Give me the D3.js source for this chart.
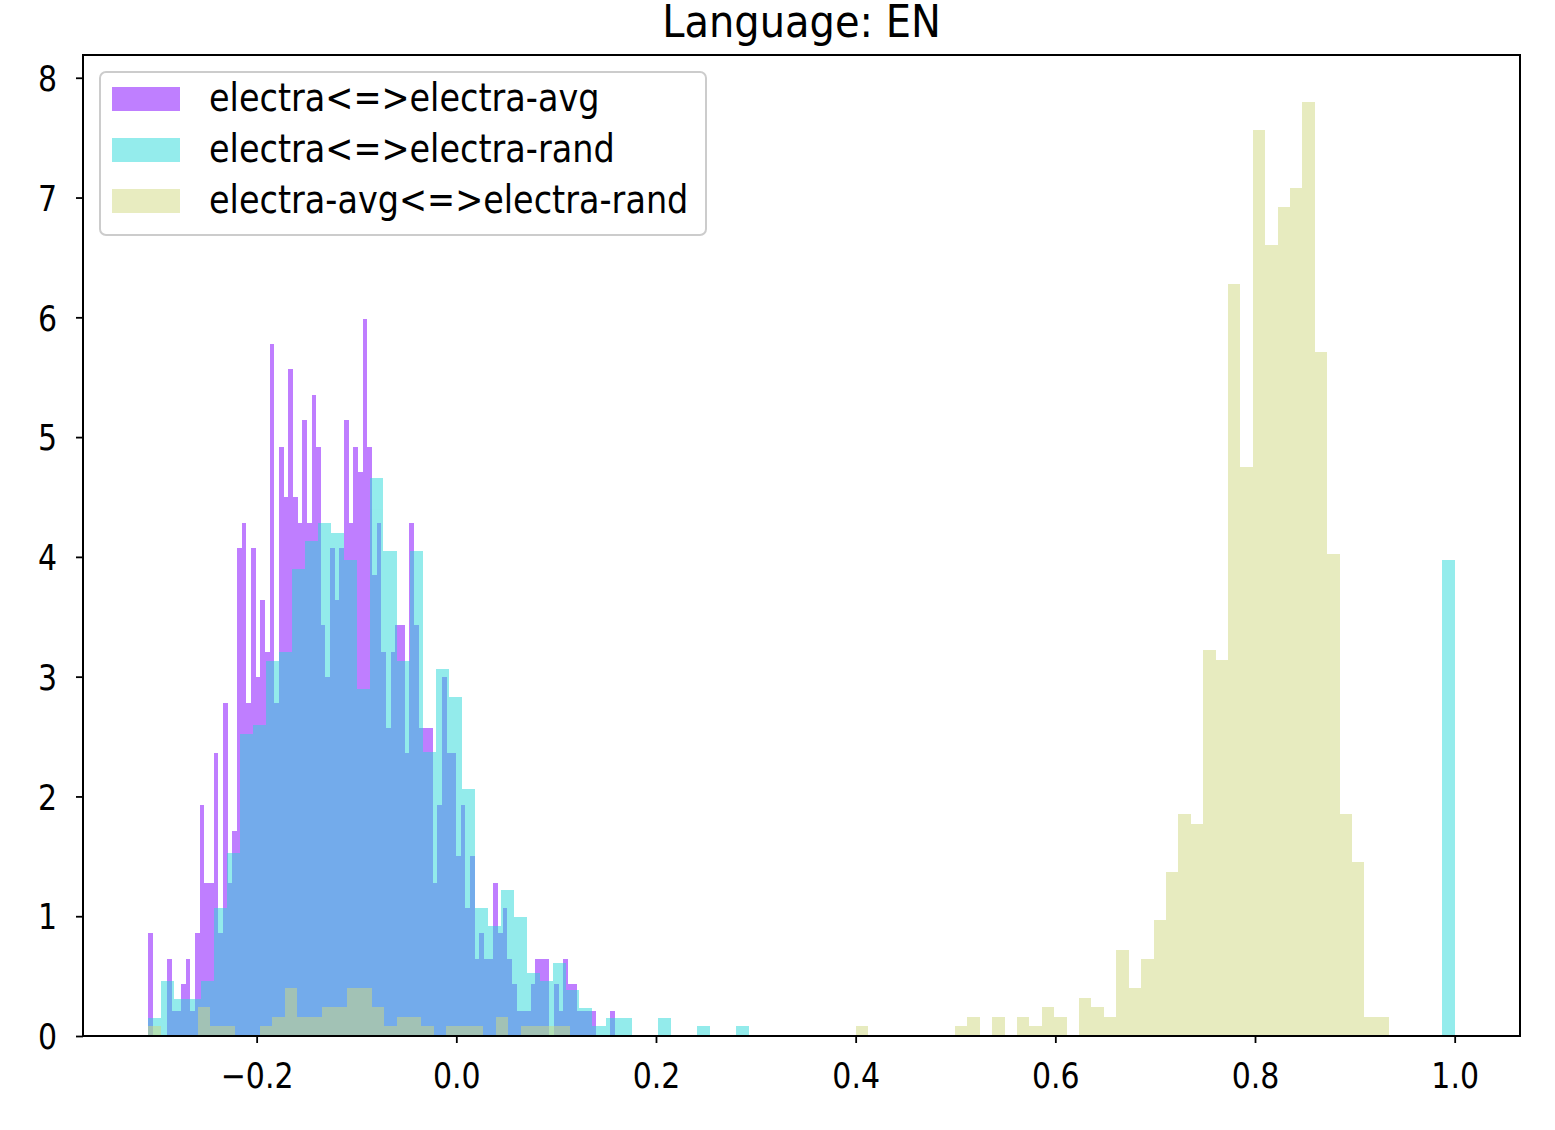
<!DOCTYPE html>
<html>
<head>
<meta charset="utf-8">
<script src="https://cdn.jsdelivr.net/npm/d3@7"></script>
<style>
  body { margin: 0; background: #fff; }
  text { font-family: "DejaVu Sans", sans-serif; fill: #000; }
</style>
</head>
<body>
<script>
// Chart values (density histograms, 100 bins each)
var seriesNames = ["electra<=>electra-avg", "electra<=>electra-rand", "electra-avg<=>electra-rand"];
var seriesColors = ["#8000ff", "#2ad9d9", "#d1d981"];
var binRanges = [[-0.3085, 0.1585], [-0.3085, 1.0], [-0.3085, 0.9345]];

var avgVals = [0.86, 0, 0, 0, 0.64, 0.21, 0.21, 0.43, 0.64, 0.21,
  0.86, 1.93, 1.28, 1.28, 2.36, 0.86, 2.78, 1.28, 1.71, 4.07,
  4.28, 2.78, 4.07, 3.00, 3.64, 3.21, 5.78, 2.78, 4.92, 4.50,
  5.57, 4.50, 4.28, 5.14, 4.28, 5.35, 4.92, 3.43, 3.00, 4.07,
  3.64, 4.07, 5.14, 4.28, 4.92, 4.71, 5.99, 4.92, 3.85, 4.28,
  3.21, 2.57, 3.21, 3.43, 3.43, 2.36, 4.28, 3.43, 2.57, 2.57,
  2.57, 1.28, 1.93, 3.00, 2.36, 2.36, 1.50, 1.93, 1.07, 1.50,
  0.64, 0.86, 0.64, 0.64, 1.28, 0.86, 1.07, 0.64, 0.43, 0.21,
  0.21, 0.21, 0.43, 0.64, 0.64, 0.64, 0, 0.43, 0.21, 0.64,
  0.43, 0.43, 0.21, 0.21, 0.21, 0.21, 0, 0, 0, 0.21];

var randVals = [0.15, 0.46, 0.31, 0.31, 0.46, 1.07, 1.53, 2.52, 2.60, 3.13,
  3.21, 3.90, 4.13, 4.28, 4.20, 3.97, 2.90, 4.66, 4.05, 3.13,
  4.05, 2.37, 3.06, 2.83, 2.06, 1.07, 0.92, 1.22, 0.99, 0.53,
  0.46, 0.61, 0.38, 0.23, 0.08, 0.15, 0.15, 0, 0, 0.15,
  0, 0, 0.08, 0, 0, 0.08, 0, 0, 0, 0,
  0, 0, 0, 0, 0, 0, 0, 0, 0, 0,
  0, 0, 0, 0, 0, 0, 0, 0, 0, 0,
  0, 0, 0, 0, 0, 0, 0, 0, 0, 0,
  0, 0, 0, 0, 0, 0, 0, 0, 0, 0,
  0, 0, 0, 0, 0, 0, 0, 0, 0, 3.97];

var avgRandVals = [0.08, 0, 0, 0, 0.24, 0.08, 0.08, 0, 0, 0.08,
  0.16, 0.40, 0.16, 0.16, 0.24, 0.24, 0.40, 0.40, 0.24, 0.08,
  0.16, 0.16, 0.08, 0, 0.08, 0.08, 0.08, 0, 0.16, 0,
  0.08, 0.08, 0.08, 0.08, 0, 0, 0, 0, 0, 0,
  0, 0, 0, 0, 0, 0, 0, 0, 0, 0,
  0, 0, 0, 0, 0, 0, 0, 0.08, 0, 0,
  0, 0, 0, 0, 0, 0.08, 0.16, 0, 0.16, 0,
  0.16, 0.08, 0.24, 0.16, 0, 0.32, 0.24, 0.16, 0.72, 0.40,
  0.64, 0.97, 1.37, 1.85, 1.77, 3.22, 3.14, 6.28, 4.75, 7.56,
  6.60, 6.92, 7.08, 7.80, 5.71, 4.02, 1.85, 1.45, 0.16, 0.16];

var xTicks = [-0.2, 0.0, 0.2, 0.4, 0.6, 0.8, 1.0];
var yTicks = [0, 1, 2, 3, 4, 5, 6, 7, 8];

var allVals = [avgVals, randVals, avgRandVals];

// Set the dimensions of the canvas / graph
var margin = {top: 55, right: 35, bottom: 94, left: 83},
    width = 1555 - margin.left - margin.right,
    height = 1130 - margin.top - margin.bottom;
var stretch = 1.18; // text in the picture is a bit taller than wide

// matplotlib-like 5% margins
var xlo = d3.min(binRanges, function(r) { return r[0]; }),
    xhi = d3.max(binRanges, function(r) { return r[1]; }),
    xpad = (xhi - xlo) * 0.05;
var ymax = d3.max(allVals, function(v) { return d3.max(v); }) * 1.05;

var x = d3.scaleLinear().domain([xlo - xpad, xhi + xpad]).range([0, width]);
var y = d3.scaleLinear().domain([0, ymax]).range([height, 0]);

var svg = d3.select("body")
    .append("svg")
        .attr("width", 1555)
        .attr("height", 1130)
    .append("g")
        .attr("transform", "translate(" + margin.left + "," + margin.top + ")");

// bars, one group per series (group opacity avoids seams)
allVals.forEach(function(vals, i) {
    var r = binRanges[i], w = (r[1] - r[0]) / vals.length;
    var bins = vals.map(function(v, j) {
        return {x0: r[0] + j * w, x1: r[0] + (j + 1) * w, v: v};
    }).filter(function(d) { return d.v > 0; });

    svg.append("g")
        .attr("opacity", 0.5)
        .attr("shape-rendering", "crispEdges")
      .selectAll("rect")
        .data(bins)
      .enter().append("rect")
        .attr("x", function(d) { return x(d.x0); })
        .attr("width", function(d) { return x(d.x1) - x(d.x0); })
        .attr("y", function(d) { return y(d.v); })
        .attr("height", function(d) { return height - y(d.v); })
        .style("fill", seriesColors[i]);
});

// Add the X Axis
var xAxis = svg.append("g")
    .attr("transform", "translate(0," + height + ")")
    .call(d3.axisBottom(x).tickValues(xTicks).tickFormat(d3.format(".1f")).tickSize(7));
xAxis.selectAll("text")
    .attr("y", null).attr("dy", null)
    .attr("transform", "translate(0,52) scale(1," + stretch + ")")
    .style("font-size", "30px");

// Add the Y Axis
var yAxis = svg.append("g")
    .call(d3.axisLeft(y).tickValues(yTicks).tickFormat(d3.format("d")).tickSize(7));
yAxis.selectAll("text")
    .attr("x", null).attr("dy", "0.36em")
    .attr("transform", "translate(-26,0) scale(1," + stretch + ")")
    .style("font-size", "30px");

[xAxis, yAxis].forEach(function(a) {
    a.select(".domain").remove();
    a.selectAll("line").attr("stroke", "#000").attr("stroke-width", 1.8);
    a.attr("font-family", null).attr("font-size", null);
});

// frame
svg.append("rect")
    .attr("width", width).attr("height", height)
    .attr("fill", "none").attr("stroke", "#000").attr("stroke-width", 2);

// title
svg.append("text")
    .attr("transform", "translate(" + (width / 2) + ",-18) scale(1,1.12)")
    .attr("text-anchor", "middle")
    .style("font-size", "40px")
    .text("Language: EN");

// legend
var legend = svg.append("g").attr("transform", "translate(17,17)");
legend.append("rect")
    .attr("width", 606).attr("height", 163).attr("rx", 6)
    .attr("fill", "#fff").attr("fill-opacity", 0.8)
    .attr("stroke", "#cccccc").attr("stroke-width", 2);

seriesNames.forEach(function(name, i) {
    var row = legend.append("g").attr("transform", "translate(0," + (27 + i * 51) + ")");
    row.append("rect")
        .attr("x", 12).attr("y", -12).attr("width", 68).attr("height", 24)
        .attr("fill", seriesColors[i]).attr("fill-opacity", 0.5);
    row.append("text")
        .attr("transform", "translate(109,12) scale(1," + stretch + ")")
        .style("font-size", "33.5px")
        .text(name);
});
</script>
</body>
</html>
